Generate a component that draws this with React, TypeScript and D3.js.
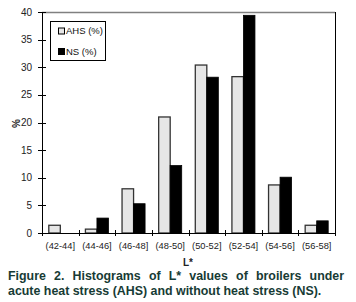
import React from "react";
import * as d3 from "d3";

const categories = ["(42-44]", "(44-46]", "(46-48]", "(48-50]", "(50-52]", "(52-54]", "(54-56]", "(56-58]"];
const ahsValues = [1.4, 0.7, 8.0, 21.0, 30.4, 28.3, 8.7, 1.4];
const nsValues = [0, 2.7, 5.3, 12.2, 28.2, 39.4, 10.1, 2.2];
const yTicks = [0, 5, 10, 15, 20, 25, 30, 35, 40];
const seriesNames = ["AHS (%)", "NS (%)"];
const captionLines = [
  "Figure 2. Histograms of L* values of broilers under",
  "acute heat stress (AHS) and without heat stress (NS).",
];

const W = 356, H = 302;
const left = 42, right = 335, top = 12, bottom = 233;

export default function App() {
  const x0 = d3.scaleBand<string>().domain(categories).range([left, right]).padding(0);
  const x1 = d3.scaleBand<string>().domain(["AHS", "NS"]).range([0, x0.bandwidth()]).paddingInner(0).paddingOuter(0.59);
  const y = d3.scaleLinear().domain([0, 40]).range([bottom, top]);
  const font = "'Liberation Sans', Arial, sans-serif";
  const boundaries = d3.range(categories.length + 1).map((i) => left + i * x0.step());

  return (
    <div style={{ position: "absolute", left: 0, top: 0, width: W, height: H, background: "#fff" }}>
      <svg width={W} height={H} style={{ position: "absolute", left: 0, top: 0 }}>
        {/* borders */}
        <line x1={left} x2={right} y1={top + 0.5} y2={top + 0.5} stroke="#808080" strokeWidth={1.3} />
        <line x1={right + 0.5} x2={right + 0.5} y1={top} y2={bottom} stroke="#000" strokeWidth={1} />
        {/* bars */}
        {categories.map((c, i) => (
          <g key={c}>
            {ahsValues[i] > 0 && (
              <rect x={x0(c)! + x1("AHS")!} y={y(ahsValues[i])} width={x1.bandwidth()} height={bottom - y(ahsValues[i])}
                fill="#e6e6e6" stroke="#333" strokeWidth={1.3} />
            )}
            {nsValues[i] > 0 && (
              <rect x={x0(c)! + x1("NS")!} y={y(nsValues[i])} width={x1.bandwidth()} height={bottom - y(nsValues[i])}
                fill="#000" stroke="#000" strokeWidth={0.8} />
            )}
          </g>
        ))}
        {/* axes */}
        <line x1={left + 0.5} x2={left + 0.5} y1={top} y2={bottom} stroke="#000" strokeWidth={1} />
        <line x1={left} x2={right + 1} y1={bottom + 0.5} y2={bottom + 0.5} stroke="#000" strokeWidth={1} />
        {yTicks.map((t) => (
          <g key={t}>
            <line x1={left - 4} x2={left + 4} y1={Math.round(y(t)) + 0.5} y2={Math.round(y(t)) + 0.5} stroke="#000" />
            <text x={left - 10} y={y(t)} dy="0.35em" textAnchor="end" fontFamily={font} fontSize={10} fill="#222">{t}</text>
          </g>
        ))}
        {boundaries.map((b, i) => (
          <line key={i} x1={Math.round(b) + 0.5} x2={Math.round(b) + 0.5} y1={bottom - 3} y2={bottom + 3} stroke="#000" />
        ))}
        {categories.map((c) => (
          <text key={c} x={x0(c)! + x0.bandwidth() / 2} y={246} dy="0.35em" textAnchor="middle" fontFamily={font} fontSize={9.3} fill="#222">{c}</text>
        ))}
        {/* axis titles */}
        <text transform={`translate(16,${(top + bottom) / 2 + 1}) rotate(-90)`} textAnchor="middle" dy="0.35em" fontFamily={font} fontSize={10} fontWeight="bold" fill="#222">%</text>
        <text x={188} y={262} dy="0.35em" textAnchor="middle" fontFamily={font} fontSize={10} fontWeight="bold" fill="#222">L*</text>
        {/* legend */}
        <rect x={50.5} y={21.5} width={55} height={39} fill="#fff" stroke="#000" strokeWidth={1} />
        <rect x={58.5} y={28} width={6} height={6} fill="#e6e6e6" stroke="#000" strokeWidth={1} />
        <text x={66} y={31} dy="0.35em" fontFamily={font} fontSize={9.5} fill="#111">{seriesNames[0]}</text>
        <rect x={58.5} y={48.5} width={6} height={6} fill="#000" stroke="#000" strokeWidth={1} />
        <text x={66} y={51.5} dy="0.35em" fontFamily={font} fontSize={9.5} fill="#111">{seriesNames[1]}</text>
      </svg>
      <div style={{
        position: "absolute", left: 8, top: 269, width: 336,
        fontFamily: font, fontWeight: "bold", fontSize: 12.4, lineHeight: "15px",
        color: "#173b35",
      }}>
        <div style={{ textAlign: "justify", textAlignLast: "justify", whiteSpace: "nowrap" as any }}>{captionLines[0]}</div>
        <div style={{ whiteSpace: "nowrap" }}>{captionLines[1]}</div>
      </div>
    </div>
  );
}
